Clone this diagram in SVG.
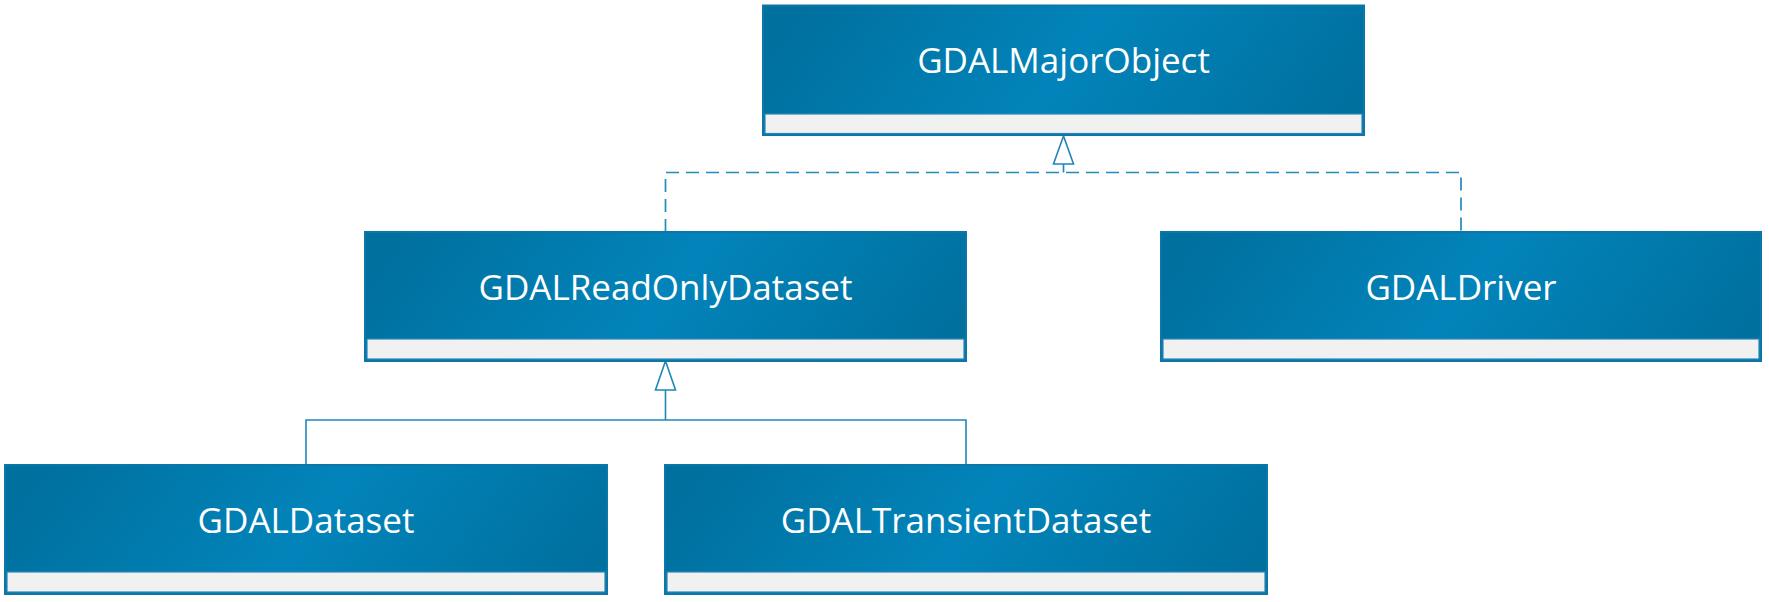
<svg xmlns="http://www.w3.org/2000/svg" width="1769" height="602" viewBox="0 0 1769 602">
<style>
.hdr{fill:url(#hg);stroke:#0a77a8;stroke-width:2}
.cmp{fill:#f1f1f1;stroke:#2a88b8;stroke-width:1.2}
.lbl{font-family:"Open Sans","Noto Sans","DejaVu Sans",sans-serif;font-size:35px;fill:#ffffff;text-anchor:middle}
.dash{fill:none;stroke:#218bbd;stroke-width:1.7;stroke-dasharray:13 7}
.solid{fill:none;stroke:#1f86b8;stroke-width:1.6}
.tri{fill:#ffffff;stroke:#1f86b8;stroke-width:1.6}
</style>
<defs>
<linearGradient id="hg" x1="0" y1="0.42" x2="1" y2="0.58">
<stop offset="0" stop-color="#00709f"/>
<stop offset="0.5" stop-color="#0284ba"/>
<stop offset="1" stop-color="#00709f"/>
</linearGradient>
</defs>
<rect width="1769" height="602" fill="#ffffff"/>
<g id="connectors">
<path class="dash" d="M665.5,232 V172.5 H1461 V232"/>
<path class="dash" d="M1063.5,172.5 V164"/>
<polygon class="tri" points="1063.5,136 1053.5,164 1073.5,164"/>
<path class="solid" d="M306,465 V420 H966 V465 M665.5,420 V390"/>
<polygon class="tri" points="665.5,361 655.5,390 675.5,390"/>
</g>
<g id="GDALMajorObject">
<rect class="hdr" x="763" y="5.5" width="601" height="129.5"/>
<rect class="cmp" x="765" y="114" width="597" height="19.5"/>
<text class="lbl" x="1063.5" y="73">GDALMajorObject</text>
</g>
<g id="GDALReadOnlyDataset">
<rect class="hdr" x="365" y="232" width="601" height="129"/>
<rect class="cmp" x="367" y="339" width="597" height="20"/>
<text class="lbl" x="665.5" y="299.5">GDALReadOnlyDataset</text>
</g>
<g id="GDALDriver">
<rect class="hdr" x="1161" y="232" width="600" height="129"/>
<rect class="cmp" x="1163" y="339" width="596" height="20"/>
<text class="lbl" x="1461" y="299.5">GDALDriver</text>
</g>
<g id="GDALDataset">
<rect class="hdr" x="5" y="465" width="602" height="129"/>
<rect class="cmp" x="7" y="572" width="598" height="20"/>
<text class="lbl" x="306" y="532.5">GDALDataset</text>
</g>
<g id="GDALTransientDataset">
<rect class="hdr" x="665" y="465" width="602" height="129"/>
<rect class="cmp" x="667" y="572" width="598" height="20"/>
<text class="lbl" x="966" y="532.5">GDALTransientDataset</text>
</g>
</svg>
